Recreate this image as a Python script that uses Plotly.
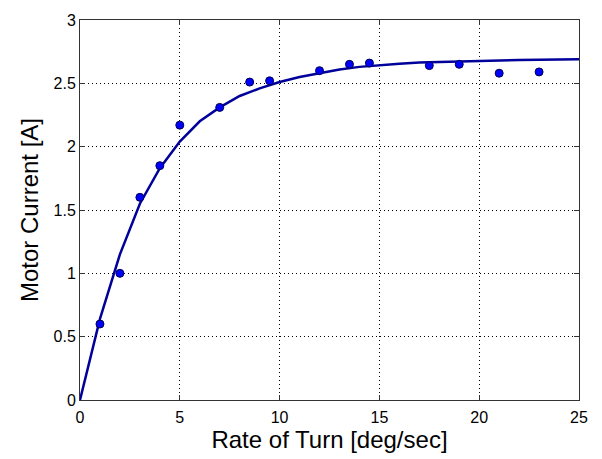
import plotly.graph_objects as go

# measured data points
rate_meas = [1, 2, 3, 4, 5, 7, 8.5, 9.5, 12, 13.5, 14.5, 17.5, 19, 21, 23]
current_meas = [0.60, 1.00, 1.60, 1.85, 2.17, 2.31, 2.51, 2.52, 2.60, 2.65, 2.66, 2.64, 2.65, 2.58, 2.59]

# fitted curve
rate_fit = [0, 1, 2, 3, 4, 5, 6, 7, 8, 9, 10, 11, 12, 13, 14, 15, 16, 17, 18, 19, 20, 21, 22, 23, 24, 25]
current_fit = [0.0, 0.64, 1.15, 1.55, 1.83, 2.04, 2.20, 2.31, 2.40, 2.46, 2.51, 2.55, 2.58, 2.61, 2.63,
               2.645, 2.655, 2.665, 2.67, 2.675, 2.68, 2.683, 2.685, 2.687, 2.688, 2.69]

x_ticks = [0, 5, 10, 15, 20, 25]
y_ticks = [0, 0.5, 1, 1.5, 2, 2.5, 3]
y_labels = ["0", "0.5", "1", "1.5", "2", "2.5", "3"]

fig = go.Figure()
fig.add_trace(go.Scatter(x=rate_fit, y=current_fit, mode="lines",
                         line=dict(color="#00009a", width=2.5), showlegend=False))
fig.add_trace(go.Scatter(x=rate_meas, y=current_meas, mode="markers",
                         marker=dict(color="#0000ff", size=8, line=dict(color="#00004a", width=1)),
                         showlegend=False))

font = "Liberation Sans, Arial, sans-serif"
axis_common = dict(showline=True, linecolor="#333333", linewidth=1, mirror="ticks",
                   ticks="inside", ticklen=5, tickcolor="#333333",
                   showgrid=True, gridcolor="#000000", griddash="1px,3px", gridwidth=1,
                   zeroline=False, tickfont=dict(family=font, size=16, color="black"))

fig.update_layout(
    width=602, height=459,
    margin=dict(l=80, r=23, t=12, b=59),
    paper_bgcolor="white", plot_bgcolor="white",
    xaxis=dict(range=[0, 25], tickvals=x_ticks, ticktext=[str(v) for v in x_ticks],
               ticklabelstandoff=3,
               title=dict(text="Rate of Turn [deg/sec]", font=dict(family=font, size=24, color="black"), standoff=0),
               **axis_common),
    yaxis=dict(range=[0, 3], tickvals=y_ticks, ticktext=y_labels,
               title=dict(text="Motor Current [A]", font=dict(family=font, size=24, color="black"), standoff=8),
               **axis_common),
)

fig.write_html("out.html")
